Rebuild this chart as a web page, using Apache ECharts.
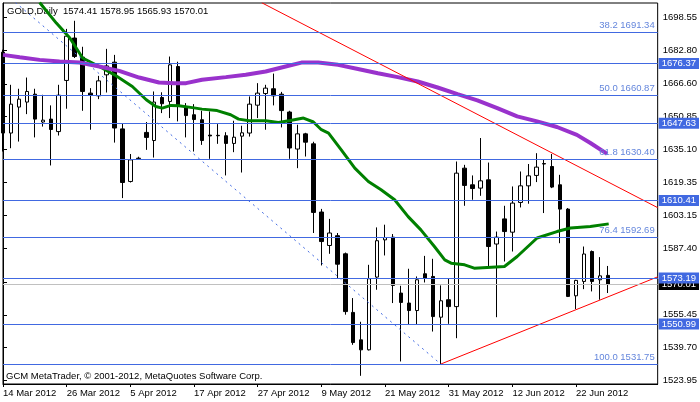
<!DOCTYPE html>
<html><head><meta charset="utf-8">
<script src="https://cdn.jsdelivr.net/npm/echarts@6/dist/echarts.min.js"></script>
<style>html,body{margin:0;padding:0;background:#fff}#c{width:700px;height:402px}</style>
</head><body><div id="c"></div>
<script>
const dates = [
'14 Mar 2012','15 Mar 2012','16 Mar 2012','19 Mar 2012','20 Mar 2012','21 Mar 2012','22 Mar 2012','23 Mar 2012','26 Mar 2012','27 Mar 2012','28 Mar 2012','29 Mar 2012','30 Mar 2012',
'2 Apr 2012','3 Apr 2012','4 Apr 2012','5 Apr 2012','6 Apr 2012','9 Apr 2012','10 Apr 2012','11 Apr 2012','12 Apr 2012','13 Apr 2012','16 Apr 2012','17 Apr 2012','18 Apr 2012','19 Apr 2012','20 Apr 2012','23 Apr 2012','24 Apr 2012','25 Apr 2012','26 Apr 2012','27 Apr 2012','30 Apr 2012',
'1 May 2012','2 May 2012','3 May 2012','4 May 2012','7 May 2012','8 May 2012','9 May 2012','10 May 2012','11 May 2012','14 May 2012','15 May 2012','16 May 2012','17 May 2012','18 May 2012','21 May 2012','22 May 2012','23 May 2012','24 May 2012','25 May 2012','28 May 2012','29 May 2012','30 May 2012','31 May 2012',
'1 Jun 2012','4 Jun 2012','5 Jun 2012','6 Jun 2012','7 Jun 2012','8 Jun 2012','11 Jun 2012','12 Jun 2012','13 Jun 2012','14 Jun 2012','15 Jun 2012','18 Jun 2012','19 Jun 2012','20 Jun 2012','21 Jun 2012','22 Jun 2012','25 Jun 2012','26 Jun 2012','27 Jun 2012','28 Jun 2012'];

const open  = [1681.8,1642.9,1655.4,1657.8,1661.6,1648.2,1649.6,1643.6,1668.2,1688.6,1679.4,1662.1,1660.8,1670.9,1677.0,1644.9,1619.6,1630.5,1643.2,1639.3,1660.0,1658.1,1674.9,1655.2,1651.7,1649.3,1641.9,1641.8,1641.6,1637.9,1641.4,1642.9,1656.3,1661.9,1664.2,1661.6,1653.0,1635.2,1642.5,1637.7,1604.9,1588.8,1593.5,1584.8,1556.6,1543.4,1538.6,1573.6,1591.5,1592.8,1565.9,1561.1,1557.5,1575.2,1573.9,1554.3,1562.7,1559.4,1626.0,1618.0,1616.4,1620.4,1589.5,1601.6,1595.2,1609.5,1617.5,1622.5,1628.2,1626.8,1618.0,1606.3,1564.6,1571.5,1585.9,1572.3,1574.41];
const high  = [1683.0,1666.1,1664.2,1669.6,1664.2,1661.3,1656.2,1666.1,1693.0,1696.9,1684.4,1664.5,1670.4,1683.4,1680.5,1647.7,1632.8,1631.5,1648.2,1662.9,1662.5,1679.7,1677.2,1657.3,1656.8,1653.6,1653.3,1647.2,1643.3,1648.8,1646.4,1660.5,1666.9,1666.1,1671.5,1662.7,1653.6,1646.9,1643.0,1638.7,1606.4,1601.6,1594.8,1585.4,1563.5,1552.1,1579.5,1597.5,1598.8,1594.3,1569.4,1577.6,1573.9,1583.8,1582.4,1569.6,1572.8,1629.2,1627.6,1622.5,1640.5,1628.7,1595.5,1607.9,1617.2,1624.4,1628.0,1633.2,1630.0,1632.8,1622.8,1606.8,1572.3,1588.3,1586.4,1583.2,1578.95];
const low   = [1634.0,1635.6,1638.8,1652.0,1640.8,1646.0,1627.3,1641.7,1654.6,1679.0,1653.6,1644.5,1659.2,1662.4,1638.3,1611.6,1619.1,1630.0,1634.8,1631.1,1652.5,1650.1,1648.5,1640.8,1634.0,1637.2,1630.5,1637.7,1622.5,1633.7,1623.9,1641.2,1650.1,1644.5,1656.2,1645.6,1630.5,1626.0,1631.6,1594.8,1579.2,1584.8,1573.1,1555.5,1541.0,1526.1,1538.3,1567.5,1584.0,1561.1,1533.0,1550.6,1550.6,1571.0,1547.4,1531.75,1551.1,1544.2,1607.9,1610.8,1612.7,1578.7,1554.3,1581.1,1585.9,1607.1,1608.9,1619.3,1604.4,1616.4,1589.9,1564.0,1558.2,1567.8,1566.7,1562.7,1565.93];
const close = [1642.9,1656.8,1659.2,1662.9,1649.6,1649.1,1644.6,1661.1,1689.5,1679.7,1662.9,1661.0,1668.0,1675.2,1645.3,1619.1,1630.0,1630.8,1640.8,1657.8,1657.0,1675.7,1656.2,1651.3,1649.4,1639.3,1641.5,1641.6,1637.9,1640.9,1643.0,1656.8,1662.1,1664.5,1660.8,1653.7,1635.7,1642.5,1638.5,1604.7,1590.7,1594.8,1579.8,1557.0,1542.1,1538.6,1572.8,1591.1,1592.6,1569.6,1561.4,1557.5,1572.3,1573.1,1554.6,1562.2,1559.4,1623.6,1617.7,1616.2,1619.9,1588.3,1592.8,1595.5,1609.2,1617.5,1622.3,1626.5,1628.0,1616.9,1606.3,1564.3,1572.0,1584.7,1571.5,1574.2,1570.01];

// moving averages: [bar position, price]
const maGreen = [[4.6,1705.7],[6.7,1695.8],[8.4,1688.6],[10.0,1679.0],[12.1,1674.9],[14.0,1670.9],[16.25,1665.3],[18.0,1658.9],[19.2,1655.7],[20.0,1654.9],[21.1,1656.2],[22.1,1656.0],[24.0,1655.0],[25.0,1654.4],[26.9,1653.7],[28.6,1651.7],[29.6,1649.6],[30.9,1648.8],[33.0,1648.8],[34.6,1648.0],[36.1,1648.9],[37.75,1650.1],[39.0,1648.2],[40.0,1644.5],[40.9,1642.9],[42.5,1634.8],[44.2,1626.0],[45.9,1619.6],[47.5,1615.6],[49.2,1610.8],[50.9,1602.7],[52.5,1596.3],[54.2,1588.3],[55.5,1581.9],[56.3,1580.3],[58.0,1579.5],[59.2,1577.9],[63.0,1578.7],[64.6,1583.5],[67.1,1592.4],[69.6,1595.5],[71.3,1597.2],[73.8,1597.9],[76.1,1599.2]];
const maPurple = [[0,1680.5],[2.1,1679.4],[4.6,1678.1],[7.1,1677.3],[9.6,1676.8],[12.1,1674.9],[14.6,1672.8],[17.1,1669.6],[19.6,1667.2],[21.5,1666.8],[23.0,1666.9],[25.0,1668.5],[28.0,1669.8],[30.5,1670.9],[33.0,1672.5],[35.5,1674.9],[37.5,1676.8],[39.6,1676.8],[42.1,1675.7],[44.6,1673.7],[47.1,1671.7],[49.6,1669.8],[52.1,1667.7],[54.6,1664.8],[57.1,1661.6],[59.6,1658.6],[62.1,1654.9],[64.6,1650.9],[67.1,1648.5],[69.6,1645.8],[72.1,1642.0],[73.8,1638.1],[75.9,1632.9]];

const yTicks = [1523.95,1539.70,1555.45,1571.20,1587.40,1603.15,1619.35,1635.10,1650.85,1666.60,1682.80,1698.55];
const xTickIdx = [0,8,16,24,32,40,48,56,64,72];
const fibLevels = [['38.2',1691.34],['50.0',1660.87],['61.8',1630.40],['76.4',1592.69],['100.0',1531.75]];
const priceLines = [1676.37,1647.63,1610.41,1573.19,1550.99];
const lastPrice = 1570.01;
const trendDown = [[32.5,1705.6],[82.25,1607.0]];
const trendUp = [[55,1531.75],[82.25,1573.7]];
const fibBase = [[-24.3,1789.9],[55,1531.75]];

const FONT = 'Liberation Sans';
const BLUE = '#4169e1';
const chart = echarts.init(document.getElementById('c'), null, {renderer:'canvas'});

const mlData = [];
mlData.push({
  yAxis: lastPrice,
  lineStyle: {color: '#c0c0c0', width: 1, type: 'solid'},
  label: {show: true, position: 'end', formatter: lastPrice.toFixed(2), color: '#fff',
          backgroundColor: '#000', padding: [1, 3, 0, 3], fontSize: 9.5, fontFamily: FONT, distance: 1}
});
fibLevels.forEach(([p, v]) => mlData.push({
  yAxis: v,
  lineStyle: {color: BLUE, width: 1, type: 'solid'},
  label: {show: true, position: 'insideEndTop', formatter: p + ' ' + v.toFixed(2),
          color: '#6486dc', fontSize: 9.5, fontFamily: FONT, distance: [3, 2]}
}));
priceLines.forEach(v => mlData.push({
  yAxis: v,
  lineStyle: {color: BLUE, width: 1, type: 'solid'},
  label: {show: true, position: 'end', formatter: v.toFixed(2), color: '#fff',
          backgroundColor: BLUE, padding: [1, 3, 0, 3], fontSize: 9.5, fontFamily: FONT, distance: 1}
}));

chart.setOption({
  animation: false,
  backgroundColor: '#fff',
  textStyle: {fontFamily: FONT},
  grid: {left: 3, right: 39, top: 3, bottom: 18, show: true, borderColor: '#000', borderWidth: 1, backgroundColor: '#fff'},
  xAxis: {
    type: 'value', min: 0, max: 82.25,
    axisLine: {show: true, lineStyle: {color: '#000', width: 1}},
    axisTick: {show: true, length: 3, customValues: xTickIdx, lineStyle: {color: '#000'}},
    axisLabel: {show: true, customValues: xTickIdx, formatter: v => dates[v] || '', align: 'left',
                margin: 4, color: '#000', fontSize: 9.5, fontFamily: FONT},
    splitLine: {show: false}
  },
  yAxis: {
    type: 'value', position: 'right', min: 1522.16, max: 1705.46, scale: true,
    axisLine: {show: true, lineStyle: {color: '#000', width: 1}},
    axisTick: {show: true, length: 4, customValues: yTicks, lineStyle: {color: '#000'}},
    axisLabel: {show: true, customValues: yTicks, formatter: v => v.toFixed(2),
                margin: 5, color: '#000', fontSize: 9.5, fontFamily: FONT},
    splitLine: {show: false}
  },
  graphic: [
    {type: 'text', left: 7, top: 6, silent: true,
     style: {text: 'GOLD,Daily  1574.41 1578.95 1565.93 1570.01', fill: '#000', font: '9.5px "Liberation Sans"'}},
    {type: 'text', left: 6, top: 371, silent: true,
     style: {text: 'GCM MetaTrader, © 2001-2012, MetaQuotes Software Corp.', fill: '#000', font: '9.5px "Liberation Sans"'}}
  ],
  series: [
    {
      type: 'candlestick',
      data: open.map((o, i) => [i, o, close[i], low[i], high[i]]),
      encode: {x: 0, y: [1, 2, 3, 4]},
      barWidth: 4,
      clip: true,
      itemStyle: {color: '#fff', color0: '#000', borderColor: '#000', borderColor0: '#000', borderWidth: 1},
      emphasis: {disabled: true},
      markLine: {silent: true, symbol: ['none', 'none'], animation: false, data: mlData}
    },
    {type: 'line', data: maGreen, showSymbol: false, symbol: 'none', clip: true, silent: true,
     lineStyle: {color: '#008000', width: 3}},
    {type: 'line', data: maPurple, showSymbol: false, symbol: 'none', clip: true, silent: true,
     lineStyle: {color: '#9932cc', width: 4}},
    {type: 'line', data: fibBase, showSymbol: false, symbol: 'none', clip: true, silent: true,
     lineStyle: {color: BLUE, width: 1, type: [2, 4]}},
    {type: 'line', data: trendDown, showSymbol: false, symbol: 'none', clip: true, silent: true,
     lineStyle: {color: '#ff0000', width: 1}},
    {type: 'line', data: trendUp, showSymbol: false, symbol: 'none', clip: true, silent: true,
     lineStyle: {color: '#ff0000', width: 1}}
  ]
});
</script></body></html>
